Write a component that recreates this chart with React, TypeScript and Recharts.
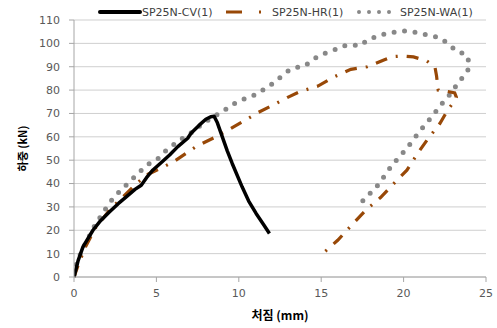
import { LineChart, Line, XAxis, YAxis, CartesianGrid } from 'recharts';

// Load-deflection curves (deflection mm / load kN)
const cvDeflection = [0, 0.25, 0.55, 1.15, 1.6, 2.16, 2.7, 3.17, 3.7, 4.08, 4.4, 4.79, 5.3, 5.8, 6.3, 6.9, 7.1, 7.6, 8.0, 8.3, 8.5, 8.7, 9.0, 9.3, 9.6, 10.2, 10.6, 11.05, 11.5, 11.86];
const cvLoad = [0, 7, 13, 20, 24, 27.9, 31.5, 34.3, 37.5, 39.3, 42.5, 45.8, 49, 52.2, 55.8, 59.4, 61.5, 65, 67.5, 68.6, 68.8, 66, 60, 54, 48.6, 38.6, 32.5, 27.2, 22.5, 18.6];

const hrDeflection = [0, 0.3, 0.7, 1.3, 2.2, 3.0, 3.8, 4.5, 5.4, 6.1, 7.4, 8.6, 9.5, 10.4, 11.2, 12.1, 13.0, 13.7, 14.8, 15.8, 16.8, 17.8, 18.8, 19.3, 19.9, 20.6, 21.4, 21.9, 22.0, 22.1, 22.6, 23.1, 23.2, 23.0, 22.7, 22.2, 21.45, 20.85, 20.2, 19.5, 18.6, 17.7, 16.9, 16.0, 15.2];
const hrLoad = [0, 6, 13, 21, 29, 34.5, 40, 44, 47, 49.6, 55.8, 60, 63.5, 67.2, 70.5, 73.7, 77, 79.3, 81.7, 85.7, 88.9, 90, 92.9, 94.3, 94.6, 94.2, 92.5, 90, 86, 80, 79.5, 78.8, 77, 74.5, 71.7, 65.7, 58.9, 52.9, 45.7, 40.7, 34, 28.6, 22.6, 15.7, 10.7];

const waDeflection = [0, 0.04, 0.44, 0.75, 1.15, 1.86, 2.36, 2.87, 3.37, 3.98, 4.69, 5.1, 5.5, 6.0, 6.4, 6.9, 7.2, 7.7, 8.3, 8.9, 9.9, 11.0, 11.9, 13.07, 13.5, 14.0, 14.5, 15.2, 15.8, 16.4, 17.0, 17.3, 17.9, 18.6, 19.2, 20.0, 20.75, 21.45, 22.1, 22.7, 23.2, 23.8, 24.0, 23.9, 23.5, 23.07, 22.7, 22.2, 21.8, 21.36, 20.9, 20.5, 20.1, 19.6, 19.2, 18.8, 18.4, 17.9, 17.4];
const waLoad = [1, 3.6, 10.7, 15, 20.7, 28.6, 33.6, 37.4, 40.7, 45, 49.3, 50.7, 53.6, 56.4, 58.6, 60.7, 62.1, 65, 67.9, 70.3, 75, 78, 82, 88.6, 89.7, 90.3, 93.2, 95.7, 97.2, 99, 99.3, 98.9, 101.7, 103.6, 104.6, 105.3, 104.7, 103.6, 102.6, 100, 96.7, 95.3, 91.5, 88.6, 84.7, 80.7, 77.1, 73.2, 69.3, 65.7, 61.7, 57.9, 54.3, 50.3, 46.9, 42.9, 39, 35.3, 31.7];

const xTicks = [0, 5, 10, 15, 20, 25];
const yTicks = [0, 10, 20, 30, 40, 50, 60, 70, 80, 90, 100, 110];

const toPoints = (xs: number[], ys: number[]) => xs.map((x, i) => ({ x, y: ys[i] }));

const FONT = '"DejaVu Sans", Verdana, sans-serif';
const KFONT = '"Noto Sans CJK KR", sans-serif';
const HR_COLOR = '#984807';
const WA_COLOR = '#888888';

// Legend drawn on top of the chart, Excel style
function ChartLegend() {
    const textStyle = { fontFamily: FONT, fontSize: 11, fill: '#404040' };
    return (
        <svg width={497} height={24} style={{ position: 'absolute', left: 0, top: 0 }}>
            <line x1={100} x2={140} y1={12} y2={12} stroke="#000" strokeWidth={4} strokeLinecap="round" />
            <text x={142} y={16} style={textStyle}>SP25N-CV(1)</text>
            <line x1={226} x2={262} y1={12} y2={12} stroke={HR_COLOR} strokeWidth={3} strokeDasharray="16 17 2 17" />
            <text x={272} y={16} style={textStyle}>SP25N-HR(1)</text>
            <line x1={359} x2={390} y1={12} y2={12} stroke={WA_COLOR} strokeWidth={4} strokeDasharray="0 10" strokeLinecap="round" />
            <text x={400} y={16} style={textStyle}>SP25N-WA(1)</text>
        </svg>
    );
}

export default function App() {
    return (
        <div style={{ position: 'absolute', left: 0, top: 0, width: 497, height: 328, background: '#fff' }}>
            <LineChart width={497} height={328} margin={{ top: 20, right: 11, bottom: 1, left: 0 }}>
                <CartesianGrid vertical={false} stroke="#cfcfcf" />
                <XAxis
                    type="number"
                    dataKey="x"
                    domain={[0, 25]}
                    ticks={xTicks}
                    allowDataOverflow
                    height={50}
                    tickSize={5}
                    tickMargin={7}
                    stroke="#a6a6a6"
                    tick={{ fontSize: 11, fontFamily: FONT, fill: '#595959' }}
                    label={{
                        value: '처짐 (mm)',
                        position: 'insideBottom',
                        offset: 7,
                        style: { fontFamily: KFONT, fontSize: 12, fontWeight: 700, fill: '#000' },
                    }}
                />
                <YAxis
                    type="number"
                    domain={[0, 110]}
                    ticks={yTicks}
                    width={74}
                    tickSize={5}
                    tickMargin={9}
                    stroke="#a6a6a6"
                    tick={{ fontSize: 11, fontFamily: FONT, fill: '#595959' }}
                    label={{
                        content: ({ viewBox }: any) => {
                            const cx = 22;
                            const cy = viewBox.y + viewBox.height / 2;
                            return (
                                <text
                                    x={cx}
                                    y={cy}
                                    transform={`rotate(-90, ${cx}, ${cy})`}
                                    textAnchor="middle"
                                    dominantBaseline="central"
                                    style={{ fontFamily: KFONT, fontSize: 11, fontWeight: 700, fill: '#000' }}
                                >
                                    하중 (kN)
                                </text>
                            );
                        },
                    }}
                />
                <Line
                    data={toPoints(waDeflection, waLoad)}
                    dataKey="y"
                    name="SP25N-WA(1)"
                    type="linear"
                    stroke={WA_COLOR}
                    strokeWidth={5}
                    strokeDasharray="0 10.5"
                    strokeLinecap="round"
                    dot={false}
                    isAnimationActive={false}
                />
                <Line
                    data={toPoints(hrDeflection, hrLoad)}
                    dataKey="y"
                    name="SP25N-HR(1)"
                    type="linear"
                    stroke={HR_COLOR}
                    strokeWidth={3.2}
                    strokeDasharray="12 9 2 9"
                    dot={false}
                    isAnimationActive={false}
                />
                <Line
                    data={toPoints(cvDeflection, cvLoad)}
                    dataKey="y"
                    name="SP25N-CV(1)"
                    type="linear"
                    stroke="#000"
                    strokeWidth={3.5}
                    strokeLinejoin="round"
                    dot={false}
                    isAnimationActive={false}
                />
            </LineChart>
            <ChartLegend />
        </div>
    );
}
